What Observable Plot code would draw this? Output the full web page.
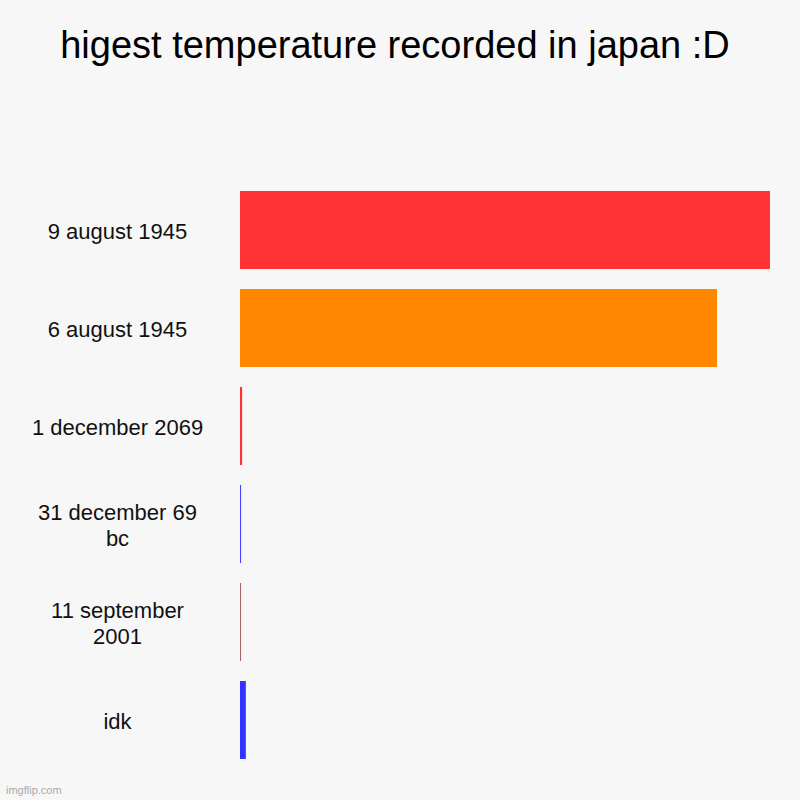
<!DOCTYPE html>
<html>
<head>
<meta charset="utf-8">
<script src="https://cdn.jsdelivr.net/npm/d3@7"></script>
<script src="https://cdn.jsdelivr.net/npm/@observablehq/plot@0.6"></script>
<style>
  html, body { margin: 0; padding: 0; background: #f7f7f7; }
  #wrap { position: relative; width: 800px; height: 800px; background: #f7f7f7; overflow: hidden; }
  #title { position: absolute; left: -5px; top: 24px; width: 800px; text-align: center;
           font-family: "Liberation Sans", Arial, sans-serif; font-size: 38px; color: #000; }
  #credit { position: absolute; left: 6px; bottom: 4px; font-family: "Liberation Sans", Arial, sans-serif;
            font-size: 11px; color: #aaa; }
</style>
</head>
<body>
<div id="wrap">
  <div id="chart"></div>
  <div id="title">higest temperature recorded in japan :D</div>
  <div id="credit">imgflip.com</div>
</div>
<script>
const categories = ["9 august 1945", "6 august 1945", "1 december 2069", "31 december 69 bc", "11 september 2001", "idk"];
const tickLabels = ["9 august 1945", "6 august 1945", "1 december 2069", "31 december 69\nbc", "11 september\n2001", "idk"];
const values = [100, 90, 0.4, 0.2, 0.2, 1.1];
const colors = ["#ff3333", "#ff8800", "#ff3333", "#4444ff", "#b06666", "#3333ff"];

const data = categories.map((c, i) => ({category: c, value: values[i], color: colors[i], label: tickLabels[i]}));

const chart = Plot.plot({
  width: 800,
  height: 800,
  marginLeft: 240,
  marginRight: 30,
  marginTop: 171,
  marginBottom: 21,
  style: {background: "#f7f7f7", fontFamily: "Liberation Sans, Arial, sans-serif"},
  x: {domain: [0, 100], axis: null},
  y: {domain: categories, padding: 0.2, axis: null},
  marks: [
    Plot.barX(data, {x: "value", y: "category", fill: "color"}),
    Plot.text(data, {y: "category", text: "label", frameAnchor: "left", dx: -123,
                     textAnchor: "middle", fontSize: 22, lineHeight: 1.2, fill: "#111"})
  ]
});
document.getElementById("chart").appendChild(chart);
</script>
</body>
</html>
